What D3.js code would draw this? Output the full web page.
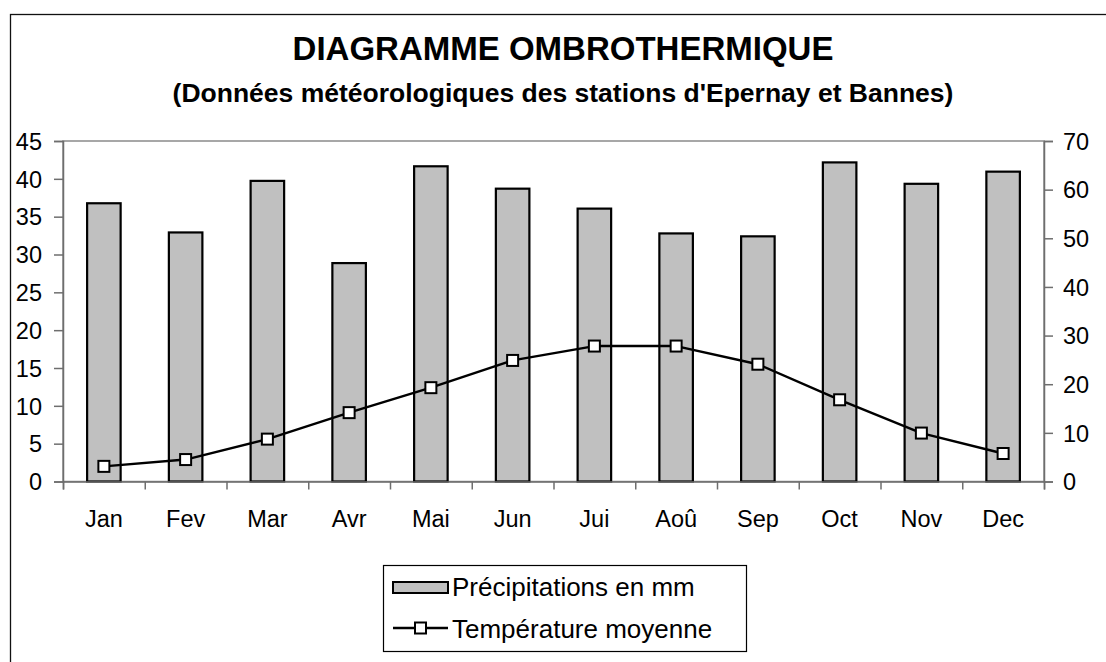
<!DOCTYPE html>
<html>
<head>
<meta charset="utf-8">
<script src="https://cdn.jsdelivr.net/npm/d3@7"></script>
<style>
  html, body { margin: 0; padding: 0; background: #fff; }
  svg { display: block; font-family: "Liberation Sans", Arial, sans-serif; }
</style>
</head>
<body>
<svg id="chart" width="1106" height="662"></svg>
<script>
// data
const months = ["Jan", "Fev", "Mar", "Avr", "Mai", "Jun", "Jui", "Aoû", "Sep", "Oct", "Nov", "Dec"];
const precipitation = [57.2, 51.2, 61.8, 44.9, 64.8, 60.2, 56.1, 51.0, 50.4, 65.6, 61.2, 63.7];
const temperature = [2.0, 2.9, 5.6, 9.1, 12.4, 16.0, 17.9, 17.9, 15.5, 10.8, 6.4, 3.7];
const leftTicks = [0, 5, 10, 15, 20, 25, 30, 35, 40, 45];
const rightTicks = [0, 10, 20, 30, 40, 50, 60, 70];
const seriesNames = ["Précipitations en mm", "Température moyenne"];

const plot = { left: 63, right: 1044, top: 141, bottom: 481.5 };
const centerX = 563;
const fontFam = "'Liberation Sans', Arial, sans-serif";

const svg = d3.select("#chart");

// chart area border (runs off the right and bottom of the picture)
svg.append("rect")
  .attr("x", 10.5).attr("y", 14.5)
  .attr("width", 1200).attr("height", 800)
  .attr("fill", "none").attr("stroke", "#111").attr("stroke-width", 1.3);

/* ========== TITLES ========== */
svg.append("text")
  .attr("x", centerX).attr("y", 60)
  .attr("text-anchor", "middle")
  .style("font-size", "33px").style("font-weight", "bold")
  .text("DIAGRAMME OMBROTHERMIQUE");

svg.append("text")
  .attr("x", centerX).attr("y", 102)
  .attr("text-anchor", "middle")
  .style("font-size", "26.5px").style("font-weight", "bold")
  .text("(Données météorologiques des stations d'Epernay et Bannes)");

/* ========== SCALES ========== */
const xBand = d3.scaleBand()
  .domain(months)
  .range([plot.left, plot.right])
  .paddingInner(0.59)
  .paddingOuter(0.295);

const xCat = d3.scaleBand()
  .domain(months)
  .range([plot.left, plot.right]);

const xEdge = d3.scaleLinear()
  .domain([0, months.length])
  .range([plot.left, plot.right]);

const yLeft = d3.scaleLinear().domain([0, 45]).range([plot.bottom, plot.top]);
const yRight = d3.scaleLinear().domain([0, 70]).range([plot.bottom, plot.top]);

// plot area frame
svg.append("rect")
  .attr("x", plot.left).attr("y", plot.top)
  .attr("width", plot.right - plot.left).attr("height", plot.bottom - plot.top)
  .attr("fill", "none").attr("stroke", "#8a8a8a").attr("stroke-width", 1.5);

/* ========== BARS ========== */
svg.append("g").selectAll("rect")
  .data(precipitation)
  .join("rect")
  .attr("x", (d, i) => xBand(months[i]))
  .attr("y", d => yRight(d))
  .attr("width", xBand.bandwidth())
  .attr("height", d => yRight(0) - yRight(d))
  .attr("fill", "#c0c0c0")
  .attr("stroke", "#000")
  .attr("stroke-width", 2.2);

/* ========== AXES ========== */
const axisColor = "#6e6e6e";

const leftAxis = svg.append("g")
  .attr("transform", `translate(${plot.left},0)`)
  .call(d3.axisLeft(yLeft).tickValues(leftTicks).tickSize(9).tickPadding(12));

const rightAxis = svg.append("g")
  .attr("transform", `translate(${plot.right},0)`)
  .call(d3.axisRight(yRight).tickValues(rightTicks).tickSize(9).tickPadding(10));

const edgeAxis = svg.append("g")
  .attr("transform", `translate(0,${plot.bottom})`)
  .call(d3.axisBottom(xEdge).tickValues(d3.range(0, months.length + 1)).tickSize(8).tickFormat(""));

const catAxis = svg.append("g")
  .attr("transform", `translate(0,${plot.bottom})`)
  .call(d3.axisBottom(xCat).tickSize(0).tickPadding(29));
catAxis.select(".domain").remove();

[leftAxis, rightAxis, edgeAxis].forEach(g => {
  g.select(".domain").attr("stroke", axisColor).attr("stroke-width", 1.5);
  g.selectAll(".tick line").attr("stroke", axisColor).attr("stroke-width", 1.5);
});
[leftAxis, rightAxis, catAxis].forEach(g => {
  g.selectAll(".tick text")
    .attr("fill", "#000")
    .style("font-size", "23.5px")
    .style("font-family", fontFam);
});
leftAxis.selectAll(".tick text").attr("dy", "0.35em");
rightAxis.selectAll(".tick text").attr("dy", "0.35em");

/* ========== LINE ========== */
const lineGen = d3.line()
  .x((d, i) => xCat(months[i]) + xCat.bandwidth() / 2)
  .y(d => yLeft(d));

svg.append("path")
  .datum(temperature)
  .attr("d", lineGen)
  .attr("fill", "none")
  .attr("stroke", "#000")
  .attr("stroke-width", 2.4)
  .attr("stroke-linejoin", "round");

const mk = 11;
svg.append("g").selectAll("rect")
  .data(temperature)
  .join("rect")
  .attr("x", (d, i) => xCat(months[i]) + xCat.bandwidth() / 2 - mk / 2)
  .attr("y", d => yLeft(d) - mk / 2)
  .attr("width", mk).attr("height", mk)
  .attr("fill", "#fff")
  .attr("stroke", "#000")
  .attr("stroke-width", 2);

/* ========== LEGEND ========== */
const legend = svg.append("g");
legend.append("rect")
  .attr("x", 383.5).attr("y", 565.5)
  .attr("width", 363).attr("height", 86)
  .attr("fill", "#fff").attr("stroke", "#000").attr("stroke-width", 1.2);

legend.append("rect")
  .attr("x", 393).attr("y", 582)
  .attr("width", 55).attr("height", 11)
  .attr("fill", "#c0c0c0").attr("stroke", "#000").attr("stroke-width", 2);

legend.append("line")
  .attr("x1", 393).attr("x2", 448)
  .attr("y1", 628).attr("y2", 628)
  .attr("stroke", "#000").attr("stroke-width", 2.4);
legend.append("rect")
  .attr("x", 420.5 - mk / 2).attr("y", 628 - mk / 2)
  .attr("width", mk).attr("height", mk)
  .attr("fill", "#fff").attr("stroke", "#000").attr("stroke-width", 2);

legend.selectAll("text.lbl")
  .data(seriesNames)
  .join("text")
  .attr("class", "lbl")
  .attr("x", 452)
  .attr("y", (d, i) => 596 + i * 42)
  .style("font-size", "26px")
  .text(d => d);
</script>
</body>
</html>
